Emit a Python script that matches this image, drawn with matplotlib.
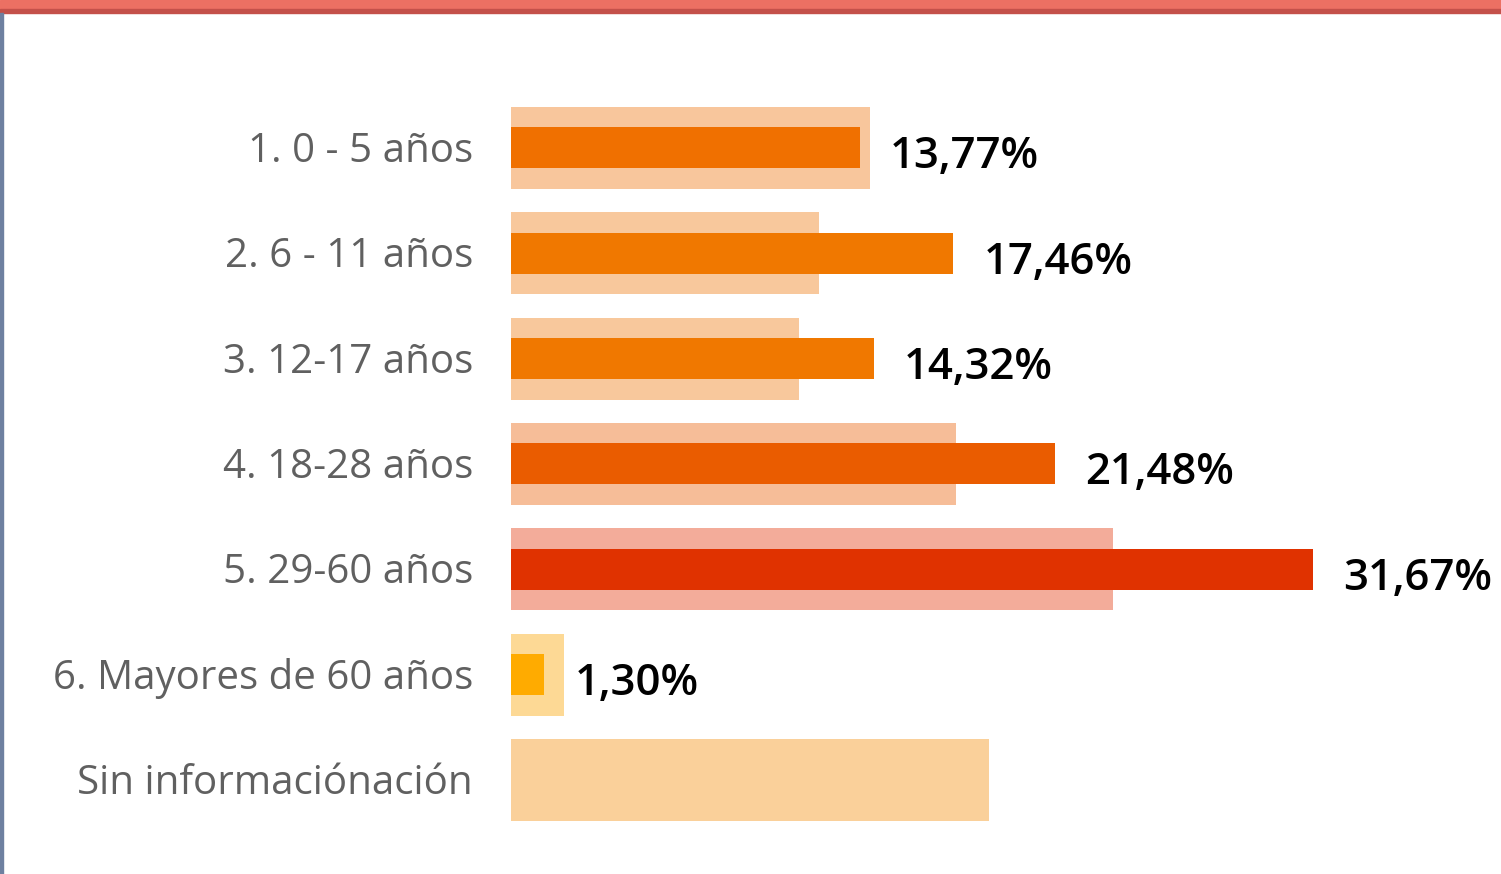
import matplotlib
matplotlib.use("Agg")
import matplotlib.pyplot as plt
from matplotlib.patches import Rectangle

categories = ["1. 0 - 5 años", "2. 6 - 11 años", "3. 12-17 años", "4. 18-28 años",
              "5. 29-60 años", "6. Mayores de 60 años", "Sin informaciónación"]
# wide light bars (reference distribution) and narrow dark bars (shown percentages)
ref_pct = [14.17, 12.16, 11.37, 17.57, 23.77, 2.09, 18.87]
pct = [13.77, 17.46, 14.32, 21.48, 31.67, 1.30, None]
pct_labels = ["13,77%", "17,46%", "14,32%", "21,48%", "31,67%", "1,30%", ""]

dark_colors = ["#F07000", "#F07800", "#F07800", "#EA5C00", "#E03200", "#FFAB00", "#F07800"]
light_colors = ["#F8C69C", "#F8C89C", "#F8C89C", "#F6BD98", "#F3AC9A", "#FDD995", "#FAD09A"]

fig = plt.figure(figsize=(15.01, 8.74), dpi=100)

# frame decorations: red top band and blue-grey left edge
fig.patches.append(Rectangle((0, 1 - 9 / 874), 1, 9 / 874, transform=fig.transFigure,
                             color="#EC7063", zorder=0))
fig.patches.append(Rectangle((0, 1 - 13 / 874), 1, 4 / 874, transform=fig.transFigure,
                             color="#C4514A", zorder=0))
fig.patches.append(Rectangle((0, 0), 3 / 1501, 1 - 13 / 874, transform=fig.transFigure,
                             color="#6E80A0", zorder=0))

ax = fig.add_axes([511 / 1501, 0, 990 / 1501, 1])
ax.set_xlim(0, 990 / 25.32)
ax.set_ylim(6.893, -1.405)
ax.axis("off")

y = list(range(len(categories)))
ax.barh(y, ref_pct, height=0.778, color=light_colors, left=0)
for i, v in enumerate(pct):
    if v is None:
        continue
    ax.barh(i, v, height=0.389, color=dark_colors[i])
    ax.text(v + 1.2, i + 0.085, pct_labels[i], ha="left", va="center",
            fontsize=31.5, fontweight="semibold", family="Open Sans", color="black")

for i, c in enumerate(categories):
    ax.text(-1.5, i + 0.035, c, ha="right", va="center", fontsize=29,
            family="Open Sans", color="#606060", clip_on=False)

fig.savefig("out.png", dpi=100)
